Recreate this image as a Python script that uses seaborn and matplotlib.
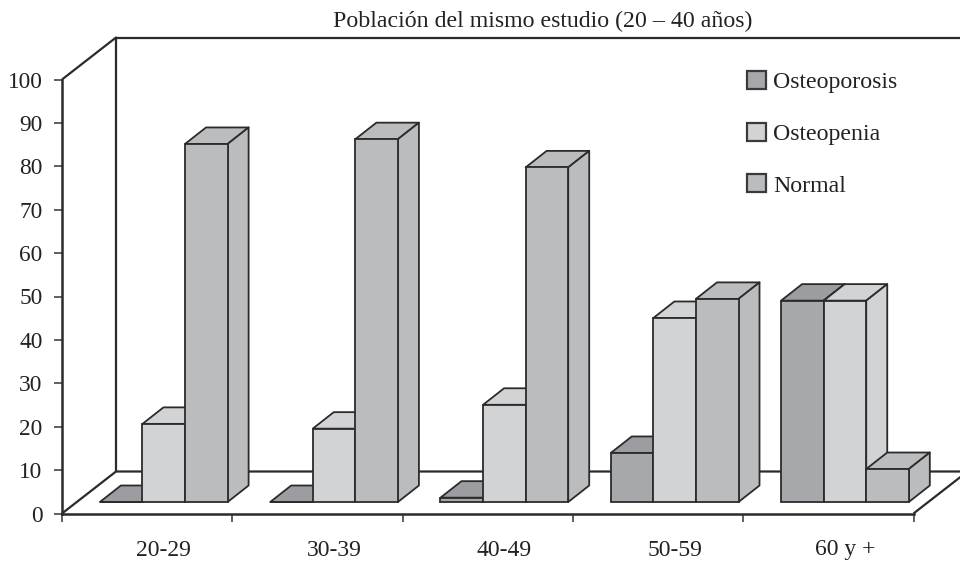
import matplotlib
matplotlib.use("Agg")
import matplotlib.pyplot as plt
from matplotlib.patches import Patch, Polygon
import pandas as pd
import seaborn as sns

grupos = ["20-29", "30-39", "40-49", "50-59", "60 y +"]
series = ["Osteoporosis", "Osteopenia", "Normal"]
osteoporosis = [0, 0, 1, 11.3, 46.4]
osteopenia = [18, 16.9, 22.4, 42.4, 46.4]
normal = [82.5, 83.6, 77.1, 46.8, 7.6]

colores = {"Osteoporosis": "#a7a8ab", "Osteopenia": "#d2d3d5", "Normal": "#bbbcbe"}
tapa = {"Osteoporosis": "#9c9da0", "Osteopenia": "#d2d3d5", "Normal": "#bbbcbe"}
borde = "#2b2b2b"

sns.set_style("white")
plt.rcParams["font.family"] = ["Liberation Serif", "DejaVu Serif"]
plt.rcParams["text.color"] = "#222222"

W, H = 960, 562
fig = plt.figure(figsize=(W / 100, H / 100), dpi=100)


def caja(x0, y_abajo, ancho, alto):
    return [x0 / W, (H - y_abajo) / H, ancho / W, alto / H]


# axes with the visible axis lines, then a second one shifted for the bars
ax = fig.add_axes(caja(62, 513.5, 851.5, 434))
ax.set_xlim(-0.5, 4.5)
ax.set_ylim(0, 100)
ax.patch.set_alpha(0)
ax_b = fig.add_axes(caja(78.6, 502, 851.5, 434))

df = pd.DataFrame({
    "grupo": grupos * 3,
    "serie": [s for s in series for _ in grupos],
    "valor": osteoporosis + osteopenia + normal,
})
sns.barplot(data=df, x="grupo", y="valor", hue="serie", order=grupos, hue_order=series,
            palette=colores, saturation=1, width=0.75, gap=0, edgecolor=borde,
            linewidth=1.3, legend=False, ax=ax_b)
ax_b.set_xlim(-0.5, 4.5)
ax_b.set_ylim(0, 100)
ax_b.patch.set_alpha(0)
ax_b.set_xlabel("")
ax_b.set_ylabel("")
ax_b.set_yticks([])
sns.despine(ax=ax_b, left=True, bottom=True)
ax_b.tick_params(axis="x", length=0, pad=27, labelsize=17, labelcolor="#222222")

# 3d faces
px_x = 5 / 851.5
px_y = 100 / 434
dx, dy = 21 * px_x, 16.5 * px_y
barras = []
for cont, s in zip(ax_b.containers, series):
    for p in cont.patches:
        barras.append((p, s))
barras.sort(key=lambda b: b[0].get_x())
for i, (p, s) in enumerate(barras):
    x0 = p.get_x()
    x1 = x0 + p.get_width()
    y = p.get_height()
    z = 3 + 2 * i
    p.set_zorder(z + 1)
    p.set_clip_on(False)
    ax_b.add_patch(Polygon([(x0, y), (x0 + dx, y + dy), (x1 + dx, y + dy), (x1, y)],
                           facecolor=tapa[s], edgecolor=borde, linewidth=1.3, zorder=z,
                           clip_on=False, joinstyle="round"))
    ax_b.add_patch(Polygon([(x1, 0), (x1 + dx, dy), (x1 + dx, y + dy), (x1, y)],
                           facecolor=colores[s], edgecolor=borde, linewidth=1.3, zorder=z,
                           clip_on=False, joinstyle="round"))

# back wall and floor
fx, fy = 54 * px_x, 42 * px_y
linea = dict(color=borde, lw=1.6, clip_on=False, solid_capstyle="butt")
ax.plot([-0.5, -0.5 + fx, -0.5 + fx, 4.5 + fx], [100, 100 + fy, fy, fy], **linea)
ax.plot([-0.5 + fx, 4.5 + fx], [100 + fy, 100 + fy], **linea)
ax.plot([-0.5, -0.5 + fx], [0, fy], **linea)
ax.plot([4.5, 4.5 + fx], [0, fy], **linea)

sns.despine(ax=ax)
for lado in ["left", "bottom"]:
    ax.spines[lado].set_linewidth(1.8)
    ax.spines[lado].set_color(borde)
ax.set_yticks(range(0, 101, 10))
ax.set_xticks([i - 0.5 for i in range(6)])
ax.set_xticklabels([])
ax.tick_params(axis="both", length=6, width=1.2, color="#444444", left=True, bottom=True,
               labelsize=16.8, labelcolor="#222222")
ax.tick_params(axis="y", pad=8)

fig.text(542.5 / W, 1 - 21 / H, "Población del mismo estudio (20 – 40 años)",
         ha="center", va="center", fontsize=17.2)

manijas = [Patch(facecolor=colores[s], edgecolor="#3a3a3a", linewidth=1.6, label=s) for s in series]
fig.legend(handles=manijas, loc="upper left", bbox_to_anchor=(747 / W, 1 - 71 / H),
           frameon=False, fontsize=17.2, labelspacing=1.22, handlelength=0.8,
           handleheight=0.8, handletextpad=0.3, borderpad=0, borderaxespad=0)

fig.savefig("out.png", dpi=100)
